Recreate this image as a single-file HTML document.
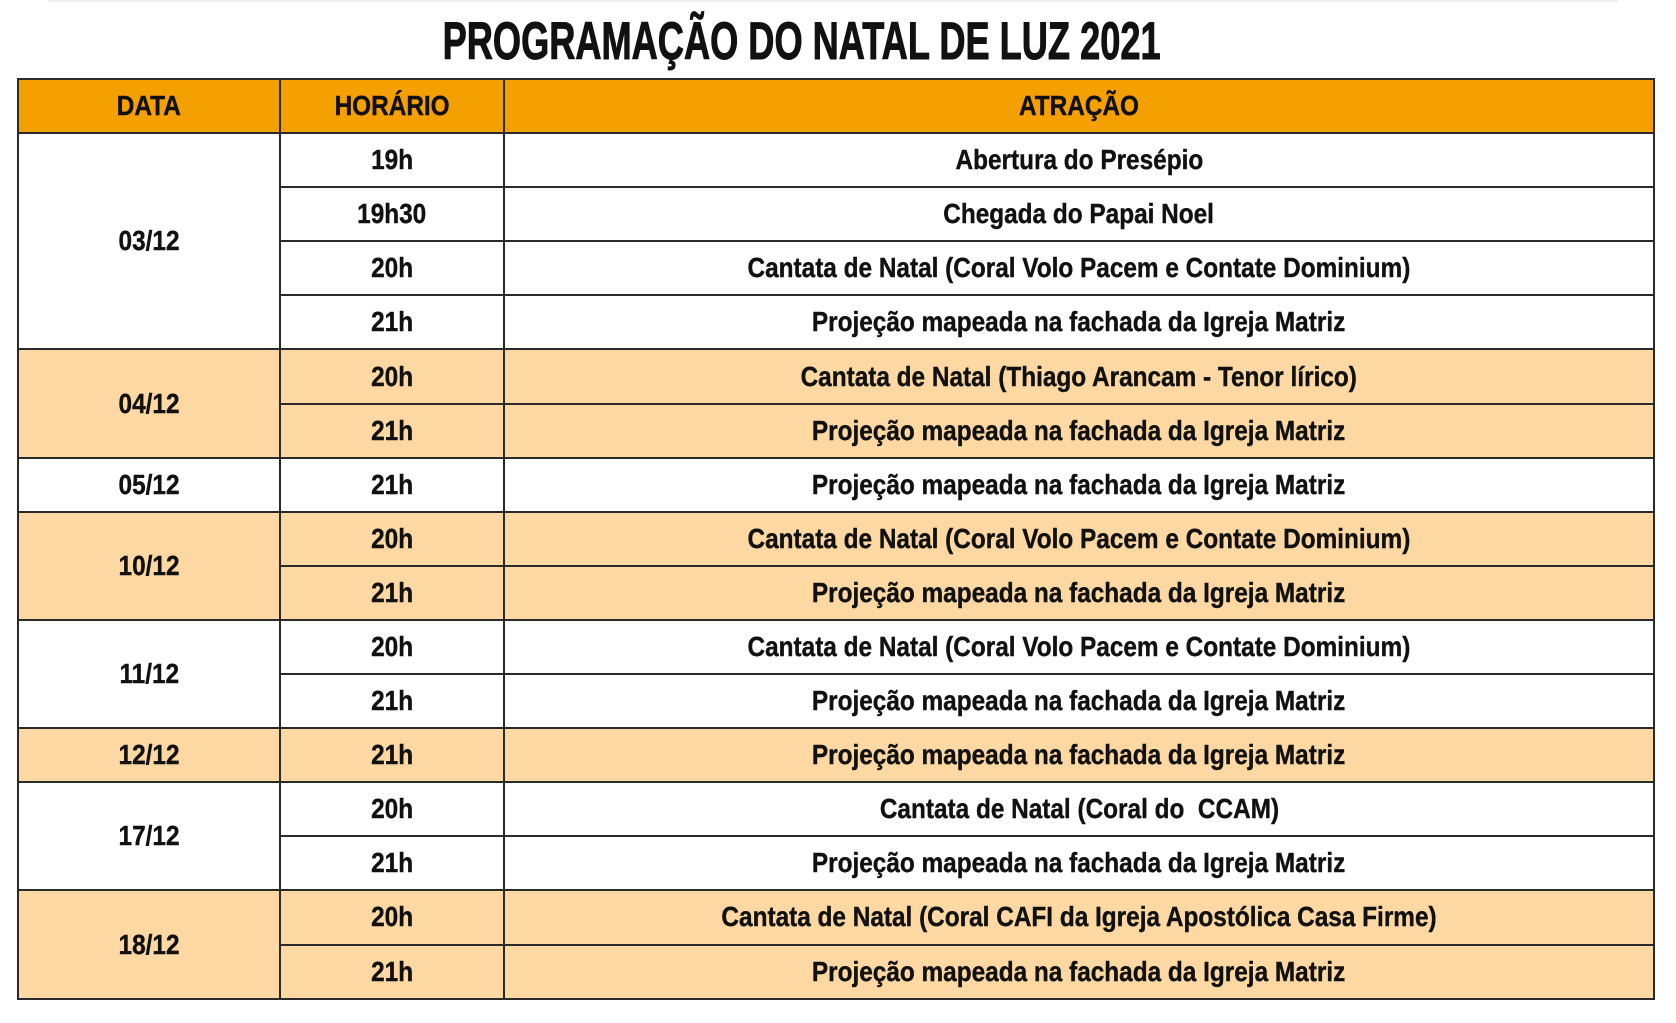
<!DOCTYPE html>
<html><head><meta charset="utf-8"><style>
html,body{margin:0;padding:0;background:#fff;}
body{width:1676px;height:1023px;position:relative;overflow:hidden;font-family:"Liberation Sans Narrow","Liberation Sans",sans-serif;font-weight:bold;color:#111;}
.title{position:absolute;left:0;width:1604px;top:14px;text-align:center;font-size:53px;line-height:56px;white-space:nowrap;}
.title span{display:inline-block;transform:scaleX(0.683);-webkit-text-stroke:1px #111;}
.topline{position:absolute;left:48px;width:1570px;top:0;height:2px;background:#eef0f6;}
table{position:absolute;left:17px;top:78px;border-collapse:collapse;table-layout:fixed;width:1638px;}
td{border:2px solid #2a2a2a;height:52.1px;padding:0;text-align:center;font-size:28px;line-height:28px;white-space:nowrap;}
td span{display:inline-block;transform:scaleX(0.87);-webkit-text-stroke:0.4px #111;}
tr.h td{background:#f4a000;}
tr.o td{background:#fdd8a3;}
</style></head><body>
<div class="topline"></div>
<div class="title"><span>PROGRAMAÇÃO DO NATAL DE LUZ 2021</span></div>
<table>
<colgroup><col style="width:262px"><col style="width:224px"><col></colgroup>
<tr class="h"><td><span>DATA</span></td><td><span>HORÁRIO</span></td><td><span>ATRAÇÃO</span></td></tr>
<tr><td rowspan="4"><span>03/12</span></td><td><span>19h</span></td><td><span>Abertura do Presépio</span></td></tr>
<tr><td><span>19h30</span></td><td><span>Chegada do Papai Noel</span></td></tr>
<tr><td><span>20h</span></td><td><span>Cantata de Natal (Coral Volo Pacem e Contate Dominium)</span></td></tr>
<tr><td><span>21h</span></td><td><span>Projeção mapeada na fachada da Igreja Matriz</span></td></tr>
<tr class="o"><td rowspan="2"><span>04/12</span></td><td><span>20h</span></td><td><span>Cantata de Natal (Thiago Arancam - Tenor lírico)</span></td></tr>
<tr class="o"><td><span>21h</span></td><td><span>Projeção mapeada na fachada da Igreja Matriz</span></td></tr>
<tr><td><span>05/12</span></td><td><span>21h</span></td><td><span>Projeção mapeada na fachada da Igreja Matriz</span></td></tr>
<tr class="o"><td rowspan="2"><span>10/12</span></td><td><span>20h</span></td><td><span>Cantata de Natal (Coral Volo Pacem e Contate Dominium)</span></td></tr>
<tr class="o"><td><span>21h</span></td><td><span>Projeção mapeada na fachada da Igreja Matriz</span></td></tr>
<tr><td rowspan="2"><span>11/12</span></td><td><span>20h</span></td><td><span>Cantata de Natal (Coral Volo Pacem e Contate Dominium)</span></td></tr>
<tr><td><span>21h</span></td><td><span>Projeção mapeada na fachada da Igreja Matriz</span></td></tr>
<tr class="o"><td><span>12/12</span></td><td><span>21h</span></td><td><span>Projeção mapeada na fachada da Igreja Matriz</span></td></tr>
<tr><td rowspan="2"><span>17/12</span></td><td><span>20h</span></td><td><span>Cantata de Natal (Coral do&nbsp; CCAM)</span></td></tr>
<tr><td><span>21h</span></td><td><span>Projeção mapeada na fachada da Igreja Matriz</span></td></tr>
<tr class="o"><td rowspan="2"><span>18/12</span></td><td><span>20h</span></td><td><span>Cantata de Natal (Coral CAFI da Igreja Apostólica Casa Firme)</span></td></tr>
<tr class="o"><td><span>21h</span></td><td><span>Projeção mapeada na fachada da Igreja Matriz</span></td></tr>
</table>
</body></html>
